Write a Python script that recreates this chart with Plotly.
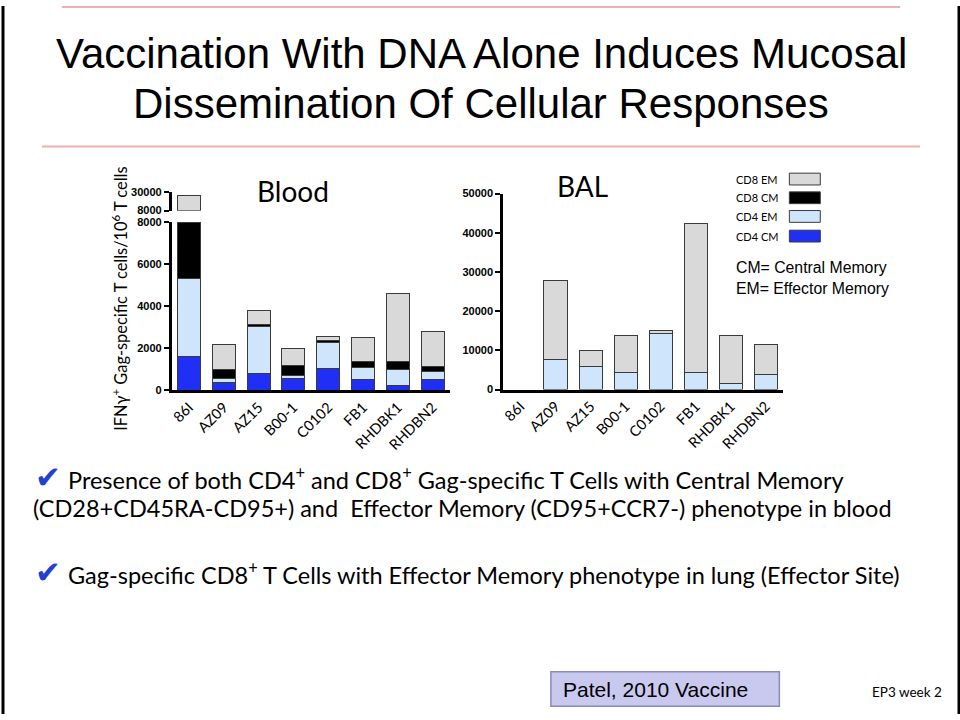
import plotly.graph_objects as go

W, H = 960, 720

# ---------------- data ----------------
animals = ["86I", "AZ09", "AZ15", "B00-1", "C0102", "FB1", "RHDBK1", "RHDBN2"]
series_names = ["CD4 CM", "CD4 EM", "CD8 CM", "CD8 EM"]
series_colors = ["#1f2ff5", "#cfe5fb", "#000000", "#d9d9d9"]

blood_cd4_cm = [1600, 390, 830, 550, 1060, 515, 235, 515]
blood_cd4_em = [3740, 170, 2200, 150, 1215, 590, 775, 375]
blood_cd8_cm = [2660, 420, 130, 470, 105, 280, 375, 230]
blood_cd8_em = [18240, 1215, 660, 830, 190, 1135, 3235, 1670]

bal_cd4_cm = [None, 0, 0, 0, 0, 0, 0, 0]
bal_cd4_em = [None, 7700, 5850, 4430, 14200, 4430, 1420, 3930]
bal_cd8_cm = [None, 0, 0, 0, 0, 0, 0, 0]
bal_cd8_em = [None, 20200, 4180, 9370, 850, 38020, 12280, 7440]

blood_low_ticks = [0, 2000, 4000, 6000, 8000]
blood_high_ticks = [8000, 30000]
bal_ticks = [0, 10000, 20000, 30000, 40000, 50000]

blood = [blood_cd4_cm, blood_cd4_em, blood_cd8_cm, blood_cd8_em]
bal = [bal_cd4_cm, bal_cd4_em, bal_cd8_cm, bal_cd8_em]


def px(x):
    return x / W


def py(y):
    return 1 - y / H


fig = go.Figure()

for name, color, vals in zip(series_names, series_colors, blood):
    for ya in ["y", "y2"]:
        fig.add_trace(go.Bar(x=animals, y=vals, name=name, marker_color=color,
                             marker_line_color="#3a3a3a", marker_line_width=1,
                             xaxis="x", yaxis=ya, showlegend=False))
for name, color, vals in zip(series_names, series_colors, bal):
    fig.add_trace(go.Bar(x=animals, y=vals, name=name, marker_color=color,
                         marker_line_color="#3a3a3a", marker_line_width=1,
                         xaxis="x2", yaxis="y3", showlegend=False))

axis_font = dict(family="Liberation Sans", size=11, color="black", weight="bold")
cat_font = dict(family="Lato", size=14.5, color="black")

common_y = dict(showline=True, linecolor="black", linewidth=2.5, ticks="outside",
                ticklen=5, tickwidth=2, tickcolor="black", showgrid=False,
                zeroline=False, tickfont=axis_font, tickformat="d")
common_x = dict(showline=True, linecolor="black", linewidth=2.5, ticks="",
                showgrid=False, zeroline=False, tickfont=cat_font, tickangle=-45,
                type="category", range=[-0.5, 7.5])

fig.update_layout(
    width=W, height=H, margin=dict(l=0, r=0, t=0, b=0),
    paper_bgcolor="white", plot_bgcolor="rgba(0,0,0,0)",
    barmode="stack", bargap=0.34,
    xaxis=dict(domain=[px(170), px(449)], anchor="y", **common_x),
    yaxis=dict(domain=[py(391), py(220)], range=[0, 8000], tickvals=blood_low_ticks,
               anchor="x", **common_y),
    yaxis2=dict(domain=[py(208), py(189)], range=[8000, 30000], tickvals=blood_high_ticks,
                anchor="x", **common_y),
    xaxis2=dict(domain=[px(502), px(783)], anchor="y3", **common_x),
    yaxis3=dict(domain=[py(390), py(190.7)], range=[0, 50000], tickvals=bal_ticks,
                anchor="x2", **common_y),
    showlegend=False,
)

ann = []
shapes = []

# title
tfont = dict(family="Liberation Sans", size=42, color="black")
ann.append(dict(text="Vaccination With DNA Alone Induces Mucosal", x=0.5, y=py(48),
                xref="paper", yref="paper", showarrow=False, font=tfont,
                xanchor="center", yanchor="middle"))
ann.append(dict(text="Dissemination Of Cellular Responses", x=0.5, y=py(99),
                xref="paper", yref="paper", showarrow=False, font=tfont,
                xanchor="center", yanchor="middle"))
# red lines
shapes.append(dict(type="line", xref="paper", yref="paper", x0=px(40), x1=px(920),
                   y0=py(143), y1=py(143), line=dict(color="#efb0b0", width=2)))
shapes.append(dict(type="line", xref="paper", yref="paper", x0=px(60), x1=px(900),
                   y0=py(1), y1=py(1), line=dict(color="#efb0b0", width=2)))
# black side borders
shapes.append(dict(type="line", xref="paper", yref="paper", x0=px(1), x1=px(1),
                   y0=0, y1=1, line=dict(color="black", width=3)))
shapes.append(dict(type="line", xref="paper", yref="paper", x0=px(959), x1=px(959),
                   y0=0, y1=1, line=dict(color="black", width=3)))

# panel titles
ann.append(dict(text="Blood", x=px(292), y=py(188), xref="paper", yref="paper", showarrow=False,
                font=dict(family="Lato", size=28, color="black"), xanchor="center", yanchor="middle"))
ann.append(dict(text="BAL", x=px(582), y=py(183), xref="paper", yref="paper", showarrow=False,
                font=dict(family="Lato", size=28, color="black"), xanchor="center", yanchor="middle"))

# y axis title
ann.append(dict(text="IFNγ<sup>+</sup> Gag-specific T cells/10<sup>6</sup> T cells",
                x=px(117), y=py(298), xref="paper", yref="paper", showarrow=False, textangle=-90,
                font=dict(family="Lato", size=16.4, color="black"), xanchor="center", yanchor="middle"))

# legend (text left, swatch right)
leg_rows = [("CD8 EM", "#d9d9d9", 176), ("CD8 CM", "#000000", 195),
            ("CD4 EM", "#cfe5fb", 214), ("CD4 CM", "#1f2ff5", 234)]
for label, color, yc in leg_rows:
    ann.append(dict(text=label, x=px(734), y=py(yc), xref="paper", yref="paper", showarrow=False,
                    font=dict(family="Lato", size=11, color="black"), xanchor="left", yanchor="middle"))
    shapes.append(dict(type="rect", xref="paper", yref="paper", x0=px(789), x1=px(820),
                       y0=py(yc - 6), y1=py(yc + 6), fillcolor=color,
                       line=dict(color="#3a3a3a", width=1)))
ann.append(dict(text="CM= Central Memory<br>EM= Effector Memory", x=px(734), y=py(277),
                xref="paper", yref="paper", showarrow=False, align="left",
                font=dict(family="Liberation Sans", size=15.8, color="black"),
                xanchor="left", yanchor="middle"))

# bullets
bfont = dict(family="Lato", size=23.5, color="black")
cfont = dict(family="DejaVu Sans", size=31, color="#2540d0")
for yc in [479, 576]:
    ann.append(dict(text="✔", x=px(31), y=py(yc), xref="paper", yref="paper", showarrow=False,
                    font=cfont, xanchor="left", yanchor="middle"))
ann.append(dict(text="Presence of both CD4<sup>+</sup> and CD8<sup>+</sup> Gag-specific T Cells with Central Memory",
                x=px(64), y=py(480), xref="paper", yref="paper", showarrow=False,
                font=bfont, xanchor="left", yanchor="middle"))
ann.append(dict(text="(CD28+CD45RA-CD95+) and  Effector Memory (CD95+CCR7-) phenotype in blood",
                x=px(29), y=py(511), xref="paper", yref="paper", showarrow=False,
                font=bfont, xanchor="left", yanchor="middle"))
ann.append(dict(text="Gag-specific CD8<sup>+</sup> T Cells with Effector Memory phenotype in lung (Effector Site)",
                x=px(64), y=py(577), xref="paper", yref="paper", showarrow=False,
                font=bfont, xanchor="left", yanchor="middle"))

# citation box
shapes.append(dict(type="rect", xref="paper", yref="paper", x0=px(550), x1=px(779),
                   y0=py(712), y1=py(677), fillcolor="#c9c9f0", line=dict(color="#8a8ab8", width=1.5)))
ann.append(dict(text="Patel, 2010 Vaccine", x=px(560), y=py(695), xref="paper", yref="paper",
                showarrow=False, font=dict(family="Liberation Sans", size=21, color="black"),
                xanchor="left", yanchor="middle"))
ann.append(dict(text="EP3 week 2", x=px(870), y=py(698), xref="paper", yref="paper",
                showarrow=False, font=dict(family="Lato", size=13.5, color="black"),
                xanchor="left", yanchor="middle"))

fig.update_layout(annotations=ann, shapes=shapes)
post = ("document.body.style.margin='0';document.body.style.overflow='hidden';"
        "var d=document.getElementsByClassName('plotly-graph-div')[0];"
        "d.style.position='absolute';d.style.top='0px';d.style.left='0px';")
fig.write_html("out.html", config={"displayModeBar": False}, post_script=post)
